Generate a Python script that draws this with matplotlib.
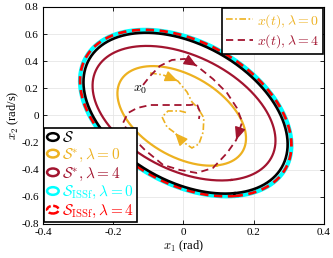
import numpy as np
import matplotlib
matplotlib.use('Agg')
import matplotlib.pyplot as plt
from matplotlib.patches import Ellipse
from matplotlib.legend_handler import HandlerPatch
from matplotlib.ticker import FuncFormatter

plt.rcParams['font.family'] = ['Liberation Serif', 'DejaVu Serif']
plt.rcParams['mathtext.fontset'] = 'cm'

# boundary points of the sets
S_x = [-0.162, -0.228, -0.271, -0.285, -0.281, -0.266, -0.238, -0.127, -0.058, 0.038, 0.132, 0.227,
       0.280, 0.289, 0.286, 0.262, 0.200, 0.115, 0.028, -0.067]
S_y = [0.594, 0.557, 0.459, 0.336, 0.212, 0.090, -0.058, -0.341, -0.500, -0.562, -0.549, -0.513,
       -0.402, -0.254, -0.120, 0.090, 0.300, 0.445, 0.525, 0.566]
ISSf_x = [-0.168, -0.236, -0.281, -0.295, -0.291, -0.275, -0.246, -0.131, -0.060, 0.039, 0.137, 0.235,
          0.290, 0.299, 0.296, 0.272, 0.208, 0.120, 0.029, -0.069]
ISSf_y = [0.614, 0.576, 0.475, 0.348, 0.219, 0.093, -0.060, -0.353, -0.518, -0.582, -0.568, -0.531,
          -0.416, -0.263, -0.124, 0.094, 0.311, 0.461, 0.544, 0.586]
star4_x = [-0.162, -0.238, -0.257, -0.247, -0.209, -0.124, 0.038, 0.161, 0.246, 0.256, 0.240, 0.195,
           0.105, 0.028, -0.067]
star4_y = [0.507, 0.385, 0.212, 0.065, -0.083, -0.279, -0.463, -0.463, -0.353, -0.205, -0.020, 0.195,
           0.355, 0.440, 0.495]
star0_x = [-0.171, -0.115, -0.060, -0.181, -0.167, -0.124, -0.010, 0.095, 0.161, 0.180, 0.040, 0.120]
star0_y = [0.286, 0.372, 0.355, 0.139, -0.009, -0.156, -0.328, -0.353, -0.304, -0.156, 0.270, 0.120]

# trajectories
traj0_x = [-0.095, -0.058, -0.016, 0.010, 0.024, 0.041, 0.058, 0.056, 0.044, 0.024, -0.001, -0.024,
           -0.047, -0.061, -0.044, -0.010, 0.013]
traj0_y = [0.313, 0.299, 0.254, 0.173, 0.100, 0.055, -0.018, -0.122, -0.210, -0.240, -0.195, -0.129,
           -0.085, -0.011, 0.033, 0.033, 0.018]
traj4_x = [-0.115, -0.095, -0.067, -0.033, 0.004, 0.038, 0.084, 0.124, 0.152, 0.167, 0.150, 0.124,
           0.084, 0.038, -0.010, -0.058, -0.110, -0.152, -0.172, -0.158, -0.132, -0.095, -0.038,
           0.019, 0.038, 0.047, 0.044]
traj4_y = [0.225, 0.291, 0.365, 0.409, 0.417, 0.365, 0.269, 0.166, 0.055, -0.048, -0.181, -0.277,
           -0.387, -0.424, -0.402, -0.365, -0.254, -0.144, -0.055, 0.018, 0.055, 0.077, 0.077,
           0.077, 0.085, 0.026, -0.026]

ORANGE = '#EDB120'
CRIMSON = '#A2142F'


def closed_curve(xs, ys, n=500):
    # least squares ellipse (a x^2 + b xy + c y^2 + d x + e y = 1) through the traced points
    xs = np.asarray(xs)
    ys = np.asarray(ys)
    A = np.column_stack([xs**2, xs*ys, ys**2, xs, ys])
    a, b, c, d, e = np.linalg.lstsq(A, np.ones_like(xs), rcond=None)[0]
    M = np.array([[a, b/2], [b/2, c]])
    ctr = -0.5*np.linalg.solve(M, [d, e])
    k = 1 + ctr @ M @ ctr
    w, V = np.linalg.eigh(M)
    t = np.linspace(0, 2*np.pi, n)
    p = V @ np.vstack([np.sqrt(k/w[0])*np.cos(t), np.sqrt(k/w[1])*np.sin(t)])
    return p[0] + ctr[0], p[1] + ctr[1]


def add_arrow(ax, xs, ys, i, color):
    x1, y1 = xs[i+1], ys[i+1]
    x0, y0 = xs[i], ys[i]
    ax.annotate('', xy=(x1, y1), xytext=(x0 + 0.6*(x1-x0), y0 + 0.6*(y1-y0)),
                arrowprops=dict(arrowstyle='-|>,head_length=0.7,head_width=0.3', color=color, lw=1.0,
                                shrinkA=0, shrinkB=0, mutation_scale=11), zorder=6)


class HandlerEll(HandlerPatch):
    def create_artists(self, legend, orig_handle, xdescent, ydescent, width, height, fontsize, trans):
        e = Ellipse(xy=(0.5*width - xdescent, 0.5*height - ydescent), width=width*0.95, height=height*0.75)
        self.update_prop(e, orig_handle, legend)
        e.set_transform(trans)
        return [e]


fig = plt.figure(figsize=(3.33, 2.58), dpi=100)
ax = fig.add_axes([0.129, 0.132, 0.844, 0.841])

x, y = closed_curve(ISSf_x, ISSf_y)
ax.plot(x, y, color='cyan', lw=3.0, zorder=2)
ax.plot(x, y, color='red', lw=2.0, ls=(0, (3, 2)), zorder=3)
x, y = closed_curve(S_x, S_y)
ax.plot(x, y, color='black', lw=1.9, zorder=3)
x, y = closed_curve(star4_x, star4_y)
ax.plot(x, y, color=CRIMSON, lw=1.6, zorder=3)
x, y = closed_curve(star0_x, star0_y)
ax.plot(x, y, color=ORANGE, lw=1.6, zorder=3)

l0, = ax.plot(traj0_x, traj0_y, color=ORANGE, lw=1.2, ls=(0, (4, 1.5, 1, 1.5)), zorder=4)
l4, = ax.plot(traj4_x, traj4_y, color=CRIMSON, lw=1.3, ls=(0, (4, 2.5)), zorder=4)
add_arrow(ax, traj0_x, traj0_y, 1, ORANGE)
add_arrow(ax, traj0_x, traj0_y, 10, ORANGE)
add_arrow(ax, traj4_x, traj4_y, 4, CRIMSON)
add_arrow(ax, traj4_x, traj4_y, 9, CRIMSON)

ax.text(-0.122, 0.19, r'$x_0$', fontsize=10, ha='center', va='center', zorder=7)

ax.set_xlim(-0.4, 0.4)
ax.set_ylim(-0.8, 0.8)
ax.set_xticks(np.arange(-0.4, 0.41, 0.2))
ax.set_yticks(np.arange(-0.8, 0.81, 0.2))
fmt = FuncFormatter(lambda v, p: '0' if abs(v) < 1e-9 else ('%g' % round(v, 1)))
ax.xaxis.set_major_formatter(fmt)
ax.yaxis.set_major_formatter(fmt)
ax.tick_params(direction='in', length=3, width=0.6, labelsize=8, top=True, right=True, pad=3)
ax.grid(True, color='#e6e6e6', lw=0.6)
ax.set_axisbelow(True)
for s in ax.spines.values():
    s.set_linewidth(0.8)
ax.set_xlabel(r'$x_1$ (rad)', fontsize=9, labelpad=1)
ax.set_ylabel(r'$x_2$ (rad/s)', fontsize=9, labelpad=0)

h1 = [Ellipse((0, 0), 1, 1, fill=False, ec='black', lw=1.8),
      Ellipse((0, 0), 1, 1, fill=False, ec=ORANGE, lw=1.8),
      Ellipse((0, 0), 1, 1, fill=False, ec=CRIMSON, lw=1.8),
      Ellipse((0, 0), 1, 1, fill=False, ec='cyan', lw=1.8),
      Ellipse((0, 0), 1, 1, fill=False, ec='red', lw=1.8, ls=(0, (2.5, 1)))]
labs1 = [r'$\mathcal{S}$', r'$\mathcal{S}^{*}, \lambda = 0$', r'$\mathcal{S}^{*}, \lambda = 4$',
         r'$\mathcal{S}_{\rm ISSf}, \lambda = 0$', r'$\mathcal{S}_{\rm ISSf}, \lambda = 4$']
leg1 = ax.legend(h1, labs1, handler_map={Ellipse: HandlerEll()}, loc='lower left',
                 bbox_to_anchor=(0.0, 0.0), fontsize=11, frameon=True, fancybox=False,
                 edgecolor='black', framealpha=1, handlelength=0.8, handleheight=0.65, handletextpad=0.2,
                 borderpad=0.15, labelspacing=0.1, borderaxespad=0.1)
leg1.get_frame().set_linewidth(1.2)
for t, c in zip(leg1.get_texts(), ['black', ORANGE, CRIMSON, 'cyan', 'red']):
    t.set_color(c)
ax.add_artist(leg1)

leg2 = ax.legend([l0, l4], [r'$x(t), \lambda = 0$', r'$x(t), \lambda = 4$'], loc='upper right',
                 bbox_to_anchor=(1.0, 1.0), fontsize=10, frameon=True, fancybox=False,
                 edgecolor='black', framealpha=1, handlelength=2.0, handletextpad=0.25,
                 borderpad=0.25, labelspacing=0.2, borderaxespad=0.1)
leg2.get_frame().set_linewidth(1.2)
for t, c in zip(leg2.get_texts(), [ORANGE, CRIMSON]):
    t.set_color(c)
leg1.set_zorder(8)
leg2.set_zorder(8)

fig.savefig('out.png', dpi=100)
